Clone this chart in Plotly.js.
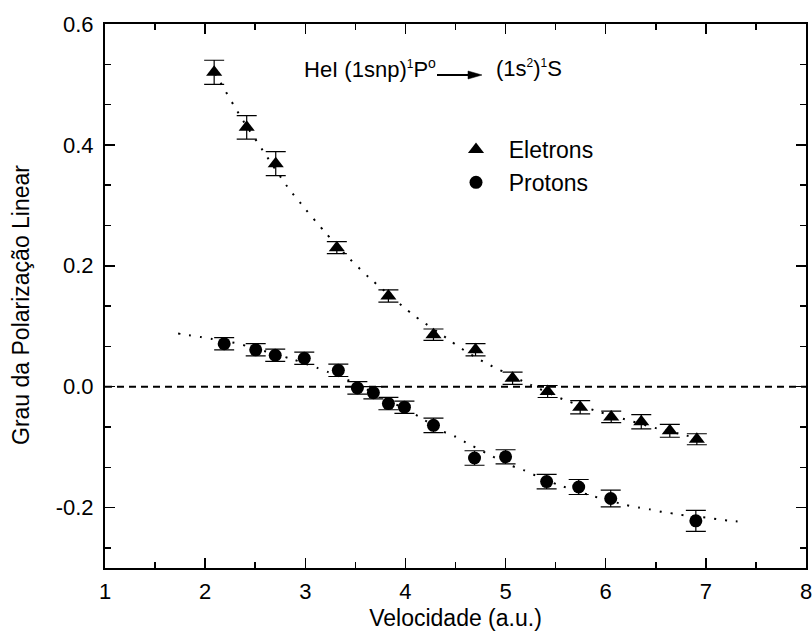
<!DOCTYPE html>
<html>
<head>
<meta charset="utf-8">
<script src="https://cdn.plot.ly/plotly-3.0.1.min.js"></script>
<style>html,body{margin:0;padding:0;background:#fff;}#chart{width:812px;height:633px;}</style>
</head>
<body>
<div id="chart"></div>
<script>
// Electron impact data (triangles)
var eletronsX = [2.09, 2.415, 2.705, 3.315, 3.83, 4.28, 4.70, 5.07, 5.42, 5.745, 6.055, 6.355, 6.64, 6.91];
var eletronsY = [0.520, 0.429, 0.369, 0.230, 0.150, 0.086, 0.061, 0.014, -0.008, -0.034, -0.050, -0.058, -0.073, -0.087];
var eletronsErr = [0.020, 0.0195, 0.020, 0.010, 0.010, 0.0094, 0.0102, 0.0102, 0.0099, 0.011, 0.0096, 0.0118, 0.0107, 0.0091];

// Proton impact data (circles)
var protonsX = [2.19, 2.505, 2.70, 2.99, 3.33, 3.52, 3.68, 3.83, 3.99, 4.28, 4.69, 5.00, 5.41, 5.73, 6.05, 6.90];
var protonsY = [0.071, 0.061, 0.052, 0.047, 0.027, -0.002, -0.010, -0.028, -0.034, -0.064, -0.118, -0.116, -0.157, -0.166, -0.185, -0.222];
var protonsErr = [0.0102, 0.0102, 0.0102, 0.0102, 0.0102, 0.0102, 0.0102, 0.0102, 0.0102, 0.012, 0.012, 0.0116, 0.012, 0.0124, 0.0138, 0.0174];

// Dotted guide curves
var eletronsFitX = [2.10, 2.15, 2.36, 2.575, 2.82, 3.00, 3.20, 3.41, 3.64, 3.98, 4.10, 4.44, 4.55, 4.78, 4.90, 5.25, 5.59, 5.94, 6.17, 6.51, 6.74, 6.92];
var eletronsFitY = [0.518, 0.504, 0.445, 0.391, 0.331, 0.294, 0.255, 0.217, 0.180, 0.132, 0.116, 0.077, 0.064, 0.041, 0.031, 0.003, -0.022, -0.042, -0.053, -0.069, -0.078, -0.086];
var protonsFitX = [1.73, 1.84, 1.96, 2.07, 2.31, 2.42, 2.88, 3.12, 3.23, 3.45, 4.14, 4.36, 4.49, 4.60, 4.83, 5.06, 5.18, 5.30, 5.52, 5.87, 6.21, 6.33, 6.44, 6.56, 6.68, 6.79, 7.02, 7.14, 7.25, 7.37];
var protonsFitY = [0.088, 0.085, 0.082, 0.079, 0.072, 0.067, 0.045, 0.031, 0.024, 0.009, -0.050, -0.073, -0.082, -0.092, -0.112, -0.131, -0.138, -0.147, -0.162, -0.181, -0.196, -0.200, -0.203, -0.207, -0.210, -0.213, -0.217, -0.220, -0.222, -0.224];

// Axis ticks
var xTickVals = [1, 2, 3, 4, 5, 6, 7, 8];
var xTickText = ['1', '2', '3', '4', '5', '6', '7', '8'];
var yTickVals = [-0.2, 0.0, 0.2, 0.4, 0.6];
var yTickText = ['-0.2', '0.0', '0.2', '0.4', '0.6'];

var FONT = 'Liberation Sans, Arial, Helvetica, sans-serif';
var NB = '\u00a0';
function sup(t, s) { return '<sup><span style="font-size:' + s + 'px">' + t + '</span></sup>'; }

var traces = [
  {x: eletronsFitX, y: eletronsFitY, mode: 'lines', showlegend: false, hoverinfo: 'skip',
   line: {color: '#000', width: 2, dash: '2px,9px', shape: 'spline', smoothing: 0.6}},
  {x: protonsFitX, y: protonsFitY, mode: 'lines', showlegend: false, hoverinfo: 'skip',
   line: {color: '#000', width: 2, dash: '2px,9px', shape: 'spline', smoothing: 0.6}},
  {x: eletronsX, y: eletronsY, mode: 'markers', name: NB + NB + 'Eletrons', legendgroup: 'e',
   marker: {symbol: 'triangle-up', size: 14, color: '#000'},
   error_y: {type: 'data', array: eletronsErr, visible: true, color: '#000', thickness: 1.2, width: 10}},
  {x: protonsX, y: protonsY, mode: 'markers', name: NB + NB + 'Protons', legendgroup: 'p',
   marker: {symbol: 'circle', size: 13, color: '#000'},
   error_y: {type: 'data', array: protonsErr, visible: true, color: '#000', thickness: 1.2, width: 10}}
];

function px2x(px) { return (px - 105) / 701; }
function py2y(py) { return (568 - py) / 544; }

var layout = {
  width: 812, height: 633,
  margin: {l: 105, r: 6, t: 24, b: 65, pad: 0},
  paper_bgcolor: '#fff', plot_bgcolor: '#fff',
  font: {family: FONT, color: '#000', size: 20},
  showlegend: true,
  legend: {x: px2x(456), y: py2y(128), xanchor: 'left', yanchor: 'top',
           bgcolor: 'rgba(0,0,0,0)', borderwidth: 0, tracegroupgap: 0,
           font: {family: FONT, size: 23, color: '#000'}},
  xaxis: {range: [1, 8], tickmode: 'array', tickvals: xTickVals, ticktext: xTickText,
          ticks: 'inside', ticklen: 10, tickwidth: 1.5, tickcolor: '#000',
          showline: true, linewidth: 2, linecolor: '#000', mirror: 'allticks',
          showgrid: false, zeroline: false, ticklabelstandoff: 3, ticklabeloverflow: 'allow',
          tickfont: {family: FONT, size: 22, color: '#000'},
          minor: {dtick: 0.5, tick0: 1, ticks: 'inside', ticklen: 6, tickwidth: 1.5, tickcolor: '#000', showgrid: false},
          title: {text: 'Velocidade (a.u.)', font: {family: FONT, size: 23, color: '#000'}, standoff: 6}},
  yaxis: {range: [-0.3, 0.6], tickmode: 'array', tickvals: yTickVals, ticktext: yTickText,
          ticks: 'inside', ticklen: 10, tickwidth: 1.5, tickcolor: '#000',
          showline: true, linewidth: 2, linecolor: '#000', mirror: 'allticks',
          showgrid: false, zeroline: false, ticklabelstandoff: 5, ticklabeloverflow: 'allow',
          tickfont: {family: FONT, size: 22, color: '#000'},
          minor: {dtick: 0.0666667, tick0: 0, ticks: 'inside', ticklen: 6, tickwidth: 1.5, tickcolor: '#000', showgrid: false}},
  shapes: [
    {type: 'line', xref: 'paper', yref: 'y', x0: 0, x1: 1, y0: 0, y1: 0,
     line: {color: '#000', width: 2, dash: '7px,5px'}},
    {type: 'line', xref: 'paper', yref: 'paper', x0: px2x(437), x1: px2x(471), y0: py2y(75), y1: py2y(75),
     line: {color: '#000', width: 2}},
    {type: 'path', xref: 'paper', yref: 'paper',
     path: 'M' + px2x(468) + ',' + py2y(71) + ' L' + px2x(482) + ',' + py2y(75) + ' L' + px2x(468) + ',' + py2y(79) + ' Z',
     fillcolor: '#000', line: {color: '#000', width: 0.5}}
  ],
  annotations: [
    {xref: 'paper', yref: 'paper', x: px2x(21), y: py2y(305), xanchor: 'center', yanchor: 'middle', showarrow: false,
     textangle: -90, text: 'Grau da Polarização Linear', font: {family: FONT, size: 23, color: '#000'}},
    {xref: 'paper', yref: 'paper', x: px2x(302), y: py2y(68), xanchor: 'left', yanchor: 'middle', showarrow: false,
     text: 'HeI (1snp)' + sup('1', 12) + 'P' + sup('o', 14), font: {family: FONT, size: 22, color: '#000'}},
    {xref: 'paper', yref: 'paper', x: px2x(494), y: py2y(68), xanchor: 'left', yanchor: 'middle', showarrow: false,
     text: '(1s' + sup('2', 12) + ')' + sup('1', 12) + 'S', font: {family: FONT, size: 22, color: '#000'}}
  ]
};

Plotly.newPlot('chart', traces, layout, {staticPlot: true, displayModeBar: false});
</script>
</body>
</html>
